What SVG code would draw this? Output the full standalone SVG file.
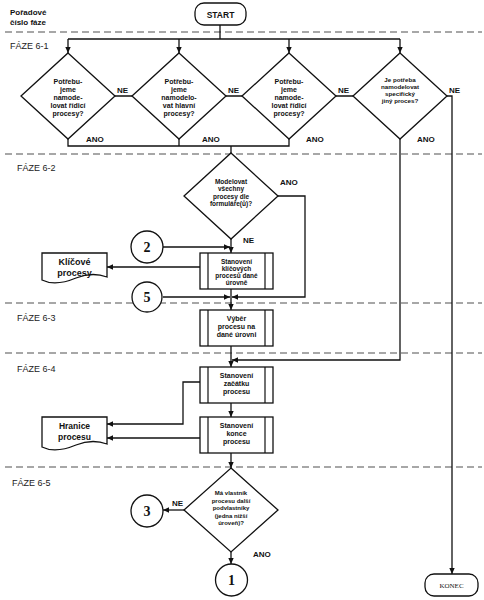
<svg xmlns="http://www.w3.org/2000/svg" width="484" height="600" viewBox="0 0 484 600">
<defs>
<marker id="ah" viewBox="0 0 10 10" refX="10" refY="5" markerWidth="6" markerHeight="6" markerUnits="userSpaceOnUse" orient="auto"><path d="M0,0.5 L10,5 L0,9.5 z" fill="#111"/></marker>
</defs>
<style>
.dash{stroke:#8a8a8a;stroke-width:1.5;stroke-dasharray:7 4;fill:none}
.sh{fill:#fff;stroke:#111;stroke-width:1.3}
.ln{stroke:#111;stroke-width:1.2;fill:none}
.c{fill:none;stroke:#111;stroke-width:1.3;marker-end:url(#ah)}
.cn{fill:none;stroke:#111;stroke-width:1.3}
.t{font-family:"Liberation Sans",Arial,sans-serif;font-weight:bold;fill:#111;text-anchor:middle}
.ph{font-family:"Liberation Sans",Arial,sans-serif;font-size:9px;fill:#222}
.lb{font-family:"Liberation Sans",Arial,sans-serif;font-weight:bold;font-size:8px;fill:#111}
.num{font-family:"Liberation Serif","Times New Roman",serif;font-weight:bold;font-size:14px;fill:#111;text-anchor:middle}
</style>
<rect width="484" height="600" fill="#fff"/>
<g id="phases">
<text class="lb" x="10" y="14.5" style="font-size:8px">Pořadové</text>
<text class="lb" x="10" y="24.5" style="font-size:8px">číslo fáze</text>
<line class="dash" x1="5" y1="32" x2="482" y2="32"/>
<line class="dash" x1="5" y1="154" x2="482" y2="154"/>
<line class="dash" x1="5" y1="303" x2="482" y2="303"/>
<line class="dash" x1="5" y1="353" x2="482" y2="353"/>
<line class="dash" x1="5" y1="467" x2="482" y2="467"/>
<text class="ph" x="10" y="49">FÁZE 6-1</text>
<text class="ph" x="17" y="171">FÁZE 6-2</text>
<text class="ph" x="17" y="321">FÁZE 6-3</text>
<text class="ph" x="17" y="372">FÁZE 6-4</text>
<text class="ph" x="12" y="486">FÁZE 6-5</text>
</g>
<g id="connectors">
<path class="cn" d="M220,25 V39 M68,39 H400"/>
<path class="c" d="M68,39 V53"/>
<path class="c" d="M179,39 V53"/>
<path class="c" d="M289,39 V53"/>
<path class="c" d="M400,39 V53"/>
<path class="cn" d="M115,96 H132 M226,96 H242 M336,96 H353"/>
<path class="c" d="M447,96 H452 V574"/>
<path class="cn" d="M68,139 V146 H289 V139 M179,139 V146 M231,146 V153"/>
<path class="c" d="M400,139 V360 H232"/>
<path class="c" d="M278,196 H305 V297 H232"/>
<path class="c" d="M231,239 V253"/>
<path class="c" d="M163,247 H230"/>
<path class="c" d="M200,267 H107"/>
<path class="c" d="M231,289 V310"/>
<path class="c" d="M163,297 H230"/>
<path class="c" d="M231,346 V367"/>
<path class="c" d="M200,382 H183 V424 H107"/>
<path class="c" d="M231,403 V417"/>
<path class="c" d="M200,438 H107"/>
<path class="c" d="M231,453 V468"/>
<path class="c" d="M184,510 H163"/>
<path class="c" d="M231,552 V564"/>
<text class="lb" x="117" y="93">NE</text>
<text class="lb" x="228" y="93">NE</text>
<text class="lb" x="338" y="93">NE</text>
<text class="lb" x="449" y="93">NE</text>
<text class="lb" x="86" y="142">ANO</text>
<text class="lb" x="202" y="142">ANO</text>
<text class="lb" x="306" y="142">ANO</text>
<text class="lb" x="417" y="142">ANO</text>
<text class="lb" x="280" y="185">ANO</text>
<text class="lb" x="243" y="243">NE</text>
<text class="lb" x="172" y="506">NE</text>
<text class="lb" x="253" y="557">ANO</text>
</g>
<g id="start">
<rect class="sh" x="195" y="3" width="51" height="22" rx="9"/>
<text class="t" x="220.5" y="17.5" style="font-size:8.5px">START</text>
</g>
<g id="d1">
<polygon class="sh" points="68,53 115,96 68,139 21,96"/>
<text class="t" style="font-size:7px"><tspan x="68" y="83.5">Potřebu-</tspan><tspan x="68" y="91.5">jeme</tspan><tspan x="68" y="99.5">namode-</tspan><tspan x="68" y="107.5">lovat řídicí</tspan><tspan x="68" y="115.5">procesy?</tspan></text>
</g>
<g id="d2">
<polygon class="sh" points="179,53 226,96 179,139 132,96"/>
<text class="t" style="font-size:7px"><tspan x="179" y="83.5">Potřebu-</tspan><tspan x="179" y="91.5">jeme</tspan><tspan x="179" y="99.5">namodelo-</tspan><tspan x="179" y="107.5">vat hlavní</tspan><tspan x="179" y="115.5">procesy?</tspan></text>
</g>
<g id="d3">
<polygon class="sh" points="289,53 336,96 289,139 242,96"/>
<text class="t" style="font-size:7px"><tspan x="289" y="83.5">Potřebu-</tspan><tspan x="289" y="91.5">jeme</tspan><tspan x="289" y="99.5">namode-</tspan><tspan x="289" y="107.5">lovat řídicí</tspan><tspan x="289" y="115.5">procesy?</tspan></text>
</g>
<g id="d4">
<polygon class="sh" points="400,53 447,96 400,139 353,96"/>
<text class="t" style="font-size:6.2px"><tspan x="400" y="82">Je potřeba</tspan><tspan x="400" y="89">namodelovat</tspan><tspan x="400" y="96">specifický</tspan><tspan x="400" y="103">jiný proces?</tspan></text>
</g>
<g id="d5">
<polygon class="sh" points="231,153 278,196 231,239 184,196"/>
<text class="t" style="font-size:6.5px"><tspan x="231" y="183.5">Modelovat</tspan><tspan x="231" y="191">všechny</tspan><tspan x="231" y="198.5">procesy dle</tspan><tspan x="231" y="206">formuláře(ů)?</tspan></text>
</g>
<g id="c2">
<circle class="sh" cx="147" cy="247" r="16"/>
<text class="num" x="147" y="252">2</text>
</g>
<g id="c5">
<circle class="sh" cx="147" cy="297" r="15"/>
<text class="num" x="147" y="302">5</text>
</g>
<g id="b1">
<rect class="sh" x="200" y="253" width="73" height="36"/>
<path class="ln" d="M208,253 V289 M265,253 V289"/>
<text class="t" style="font-size:6.5px"><tspan x="236.5" y="263.5">Stanovení</tspan><tspan x="236.5" y="270.8">klíčových</tspan><tspan x="236.5" y="278.1">procesů dané</tspan><tspan x="236.5" y="285.4">úrovně</tspan></text>
</g>
<g id="doc1">
<path class="sh" d="M42,253 H107 V277 C96,273 86,274 76,278 C64,283 52,285 42,280 Z"/>
<text class="t" style="font-size:9px"><tspan x="74.5" y="264.5">Klíčové</tspan><tspan x="74.5" y="275.5">procesy</tspan></text>
</g>
<g id="b2">
<rect class="sh" x="200" y="310" width="73" height="36"/>
<path class="ln" d="M208,310 V346 M265,310 V346"/>
<text class="t" style="font-size:7px"><tspan x="236.5" y="320.5">Výběr</tspan><tspan x="236.5" y="328.5">procesu na</tspan><tspan x="236.5" y="336.5">dané úrovni</tspan></text>
</g>
<g id="b3">
<rect class="sh" x="200" y="367" width="73" height="36"/>
<path class="ln" d="M208,367 V403 M265,367 V403"/>
<text class="t" style="font-size:7px"><tspan x="236.5" y="377.5">Stanovení</tspan><tspan x="236.5" y="385.8">začátku</tspan><tspan x="236.5" y="394.1">procesu</tspan></text>
</g>
<g id="b4">
<rect class="sh" x="200" y="417" width="73" height="36"/>
<path class="ln" d="M208,417 V453 M265,417 V453"/>
<text class="t" style="font-size:7px"><tspan x="236.5" y="427.5">Stanovení</tspan><tspan x="236.5" y="435.8">konce</tspan><tspan x="236.5" y="444.1">procesu</tspan></text>
</g>
<g id="doc2">
<path class="sh" d="M42,417 H107 V444 C96,440 86,441 76,445 C64,450 52,452 42,447 Z"/>
<text class="t" style="font-size:8.5px"><tspan x="74.5" y="429">Hranice</tspan><tspan x="74.5" y="439.5">procesu</tspan></text>
</g>
<g id="d6">
<polygon class="sh" points="231,468 278,510 231,552 184,510"/>
<text class="t" style="font-size:6px"><tspan x="231" y="495">Má vlastník</tspan><tspan x="231" y="502.5">procesu další</tspan><tspan x="231" y="510">podvlastníky</tspan><tspan x="231" y="517.5">(jedna nižší</tspan><tspan x="231" y="525">úroveň)?</tspan></text>
</g>
<g id="c3">
<circle class="sh" cx="147" cy="511" r="16"/>
<text class="num" x="147" y="516">3</text>
</g>
<g id="c1">
<circle class="sh" cx="231.5" cy="580" r="16"/>
<text class="num" x="231.5" y="585">1</text>
</g>
<g id="konec">
<rect class="sh" x="425" y="574" width="53" height="22" rx="9"/>
<text x="451.5" y="587.5" style="font-family:'Liberation Serif','Times New Roman',serif;font-size:7px;fill:#111;text-anchor:middle">KONEC</text>
</g>
</svg>
